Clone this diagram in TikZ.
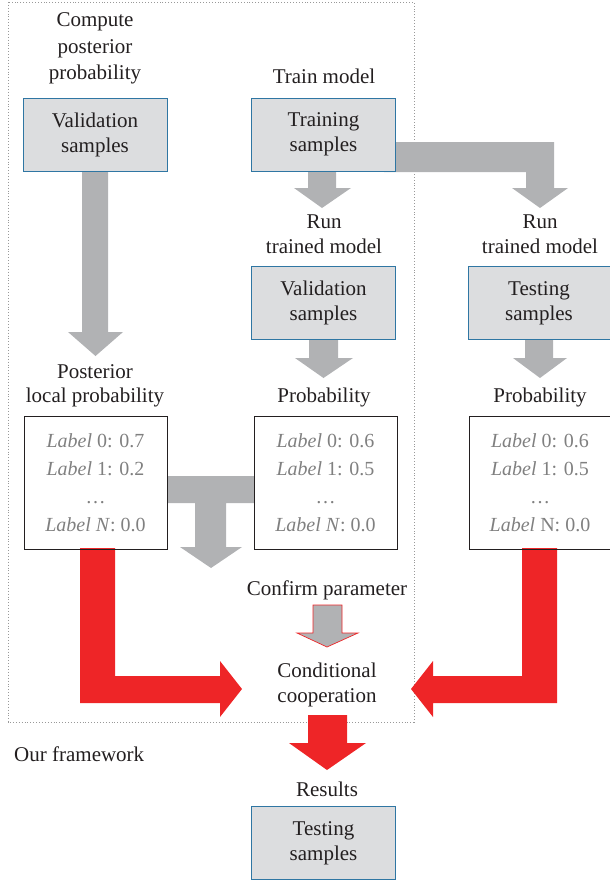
\documentclass[tikz,border=0pt]{standalone}
\usepackage{fontspec}
\setmainfont{Liberation Serif}
\definecolor{dark}{HTML}{231F20}
\definecolor{boxgray}{HTML}{DCDDDF}
\definecolor{boxblue}{HTML}{2F76A3}
\definecolor{arrgray}{HTML}{B1B2B4}
\definecolor{arrred}{HTML}{EE2527}
\definecolor{lblgray}{HTML}{808080}
\begin{document}
\begin{tikzpicture}[x=1pt,y=-1pt,
  txt/.style={font=\fontsize{21}{25}\selectfont, text=dark, inner sep=0pt, anchor=base},
  sbox/.style={draw=boxblue, line width=1pt, fill=boxgray, minimum width=144pt, minimum height=73pt,
    align=center, font=\fontsize{21}{25}\selectfont, text=dark, inner sep=0pt},
  lbox/.style={draw=dark, line width=0.8pt, minimum height=133pt, align=center,
    font=\fontsize{20}{28}\selectfont, text=lblgray, inner sep=0pt},
  garrow/.style={fill=arrgray},
  rarrow/.style={fill=arrred},
  frame/.style={draw=gray!80, dotted, line width=0.9pt}]
\useasboundingbox (0,0) rectangle (610,883);

% framework frame
\draw[frame] (8,2) rectangle (414,722);

% gray arrows
\fill[garrow] (82,171) -- (108,171) -- (108,332) -- (123,332) -- (95.5,356) -- (68,332) -- (82,332) -- cycle;
\fill[garrow] (308,171) -- (336,171) -- (336,188) -- (351,188) -- (322,208) -- (294,188) -- (308,188) -- cycle;
\fill[garrow] (384,142) -- (554,142) -- (554,188) -- (568,188) -- (540,208) -- (512,188) -- (526,188) -- (526,172) -- (384,172) -- cycle;
\fill[garrow] (309,340) -- (338,340) -- (338,358) -- (353,358) -- (323.5,378) -- (295,358) -- (309,358) -- cycle;
\fill[garrow] (525,340) -- (553,340) -- (553,358) -- (567,358) -- (540,378) -- (513,358) -- (525,358) -- cycle;
\fill[garrow] (167,476) -- (254,476) -- (254,503) -- (226,503) -- (226,547) -- (242,547) -- (211,568) -- (180,547) -- (195,547) -- (195,503) -- (167,503) -- cycle;
\filldraw[fill=arrgray, draw=arrred, line width=0.7pt] (313,605) -- (342,605) -- (342,633) -- (358,633) -- (327,647) -- (297,633) -- (313,633) -- cycle;

% red arrows
\fill[rarrow] (80,548) -- (115,548) -- (115,676) -- (220,676) -- (220,661) -- (242,689) -- (220,717) -- (220,703) -- (80,703) -- cycle;
\fill[rarrow] (557,548) -- (522,548) -- (522,676) -- (433,676) -- (433,661) -- (411,689) -- (433,717) -- (433,703) -- (557,703) -- cycle;
\fill[rarrow] (308,715) -- (347,715) -- (347,743) -- (366,743) -- (327,770) -- (289,743) -- (308,743) -- cycle;

% sample boxes
\node[sbox] (vs1) at (95,134.5) {Validation\\samples};
\node[sbox] (ts) at (323.5,134.5) {Training\\samples};
\node[sbox] (vs2) at (323.5,303) {Validation\\samples};
\node[sbox, minimum width=142pt] (tes) at (539,303) {Testing\\samples};
\node[sbox] (tes2) at (323.5,843) {Testing\\samples};

% label boxes
\node[lbox, minimum width=143pt] (lb1) at (95.5,482.5) {\textit{Label} 0: 0.7\\\textit{Label} 1: 0.2\\\ldots\\\textit{Label N}: 0.0};
\node[lbox, minimum width=143pt] (lb2) at (325.5,482.5) {\textit{Label} 0: 0.6\\\textit{Label} 1: 0.5\\\ldots\\\textit{Label N}: 0.0};
\node[lbox, minimum width=142pt] (lb3) at (540,482.5) {\textit{Label} 0: 0.6\\\textit{Label} 1: 0.5\\\ldots\\\textit{Label} N: 0.0};

% texts
\node[txt] (cp1) at (95,27) {Compute};
\node[txt] (cp2) at (95,53) {posterior};
\node[txt] (cp3) at (95,79) {probability};
\node[txt] (tm) at (324,83) {Train model};
\node[txt] (r1a) at (324,228) {Run};
\node[txt] (r1b) at (324,253) {trained model};
\node[txt] (r2a) at (540,228) {Run};
\node[txt] (r2b) at (540,253) {trained model};
\node[txt] (pl1) at (95,378) {Posterior};
\node[txt] (pl2) at (95,402) {local probability};
\node[txt] (p1) at (324,402) {Probability};
\node[txt] (p2) at (540,402) {Probability};
\node[txt] (cpar) at (327,595) {Confirm parameter};
\node[txt] (cc1) at (327,677) {Conditional};
\node[txt] (cc2) at (327,702) {cooperation};
\node[txt, anchor=base west] (ofw) at (14,761) {Our framework};
\node[txt] (res) at (327,796) {Results};
\end{tikzpicture}
\end{document}
